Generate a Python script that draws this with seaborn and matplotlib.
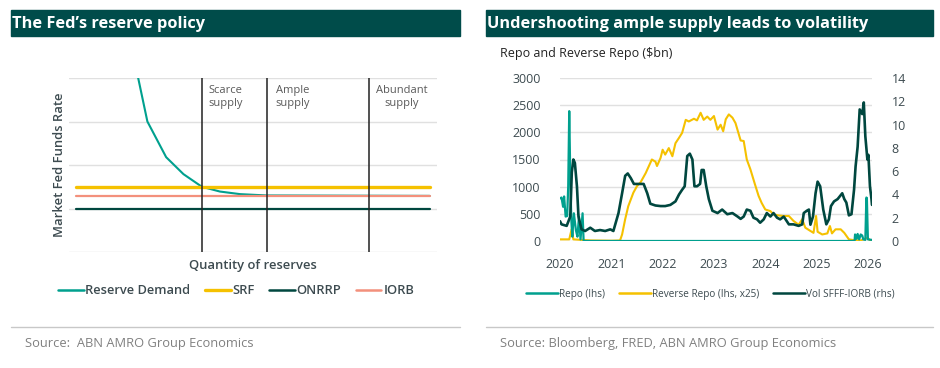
import numpy as np
import pandas as pd
import matplotlib
matplotlib.use("Agg")
import matplotlib.pyplot as plt
from matplotlib.lines import Line2D
import seaborn as sns

# ---------------- left panel: stylised reserve demand ----------------
demand_x = [17.5, 18.8, 21.3, 26.4, 31.1, 36.1, 41.0, 46.5, 53.7, 98.0]
demand_y = [4.6, 4.0, 3.0, 2.18, 1.79, 1.50, 1.39, 1.33, 1.30, 1.29]
policy_names = ["SRF", "ONRRP", "IORB"]
policy_levels = [1.49, 1.0, 1.29]
regime_bounds = [36.2, 53.8, 81.5]
regime_labels = ["Scarce\nsupply", "Ample\nsupply", "Abundant\nsupply"]
regime_label_x = [37.8, 56.0, 83.5]

# ---------------- right panel: repo, reverse repo, vol ----------------
repo_t = [2020.00, 2020.03, 2020.06, 2020.08, 2020.11, 2020.14, 2020.16, 2020.18, 2020.20,
          2020.22, 2020.24, 2020.27, 2020.31, 2020.34, 2020.37, 2020.40, 2020.44, 2020.46,
          2020.50, 2025.74, 2025.75, 2025.78, 2025.80, 2025.83, 2025.86, 2025.89, 2025.91,
          2025.95, 2025.97, 2025.98, 2026.00, 2026.08]
repo = [785, 800, 630, 820, 450, 460, 1000, 2390, 1200,
        400, 80, 510, 200, 80, 450, 30, 510, 0,
        0, 0, 120, 40, 130, 30, 120, 100, 30,
        20, 800, 790, 30, 20]

rrp_t = [2020.00, 2020.18, 2020.21, 2020.23, 2020.26, 2020.60, 2021.00, 2021.17, 2021.21, 2021.27,
         2021.33, 2021.43, 2021.50, 2021.57, 2021.67, 2021.79, 2021.86, 2021.89, 2021.96, 2022.00,
         2022.05, 2022.12, 2022.19, 2022.25, 2022.32, 2022.38, 2022.45, 2022.51, 2022.61, 2022.67,
         2022.74, 2022.80, 2022.87, 2022.93, 2023.00, 2023.07, 2023.13, 2023.18, 2023.23, 2023.29,
         2023.36, 2023.42, 2023.52, 2023.58, 2023.64, 2023.71, 2023.80, 2023.87, 2023.93, 2024.00,
         2024.10, 2024.16, 2024.26, 2024.36, 2024.46, 2024.55, 2024.65, 2024.72, 2024.78, 2024.88,
         2024.94, 2024.99, 2025.02, 2025.11, 2025.21, 2025.26, 2025.30, 2025.37, 2025.47, 2025.54,
         2025.63, 2025.73, 2025.86, 2025.99, 2026.04, 2026.08]
rrp = [30, 30, 150, 220, 30, 10, 5, 10, 120, 400,
       640, 890, 1010, 1080, 1250, 1500, 1460, 1380, 1530, 1680,
       1590, 1710, 1560, 1800, 1900, 1990, 2230, 2200, 2250, 2220,
       2360, 2230, 2290, 2230, 2300, 2050, 2140, 2020, 2240, 2330,
       2270, 2170, 1850, 1840, 1500, 1320, 1040, 830, 700, 580,
       550, 490, 470, 460, 460, 370, 300, 400, 245, 185,
       150, 460, 170, 120, 140, 275, 140, 215, 215, 150,
       30, 15, 10, 60, 15, 10]

vol_t = [2020.00, 2020.03, 2020.13, 2020.20, 2020.23, 2020.26, 2020.29, 2020.33, 2020.36, 2020.42,
         2020.49, 2020.59, 2020.68, 2020.78, 2020.88, 2020.98, 2021.04, 2021.14, 2021.21, 2021.27,
         2021.32, 2021.38, 2021.44, 2021.53, 2021.63, 2021.70, 2021.76, 2021.86, 2021.96, 2022.05,
         2022.15, 2022.25, 2022.32, 2022.38, 2022.43, 2022.48, 2022.53, 2022.58, 2022.62, 2022.67,
         2022.73, 2022.76, 2022.80, 2022.85, 2022.90, 2022.97, 2023.07, 2023.16, 2023.26, 2023.36,
         2023.46, 2023.52, 2023.58, 2023.64, 2023.71, 2023.77, 2023.84, 2023.90, 2023.97, 2024.03,
         2024.10, 2024.16, 2024.23, 2024.29, 2024.36, 2024.46, 2024.55, 2024.65, 2024.72, 2024.75,
         2024.81, 2024.85, 2024.88, 2024.93, 2024.98, 2025.02, 2025.07, 2025.13, 2025.19, 2025.24,
         2025.28, 2025.34, 2025.41, 2025.50, 2025.54, 2025.58, 2025.63, 2025.68, 2025.73, 2025.76,
         2025.80, 2025.84, 2025.89, 2025.92, 2025.95, 2025.99, 2026.01, 2026.04, 2026.07, 2026.08]
vol = [1.7, 1.43, 1.3, 2.1, 5.9, 7.0, 6.7, 4.7, 2.1, 1.0,
       0.86, 1.14, 0.86, 0.94, 0.86, 1.0, 0.86, 2.4, 4.1, 5.6,
       5.8, 5.4, 4.9, 4.9, 4.9, 4.1, 3.2, 3.05, 3.0, 3.0,
       3.1, 3.4, 4.0, 4.4, 4.7, 7.3, 7.5, 7.0, 4.7, 4.7,
       4.9, 6.1, 6.1, 4.7, 3.6, 2.6, 2.4, 2.7, 2.3, 2.4,
       2.1, 1.9, 2.1, 2.7, 2.6, 2.0, 1.86, 1.57, 1.86, 2.4,
       2.1, 2.4, 2.0, 1.86, 2.1, 1.43, 1.43, 1.3, 1.43, 2.4,
       2.6, 2.7, 1.4, 2.1, 4.1, 5.1, 4.7, 2.7, 1.43, 1.86,
       3.0, 3.4, 3.6, 4.1, 3.6, 3.3, 2.2, 2.3, 4.4, 6.4,
       8.1, 11.3, 10.9, 11.9, 9.0, 7.0, 7.4, 4.7, 3.6, 3.1]

years = [2020, 2021, 2022, 2023, 2024, 2025, 2026]

# colours
BAR = "#004c4a"
TEAL = "#00a08e"
YELLOW = "#f5c100"
DARK = "#00473f"
SALMON = "#f3907c"
TXT = "#3d4b50"
SRC = "#808080"
GRID = "#e0e0e0"

sns.set_style("white")
plt.rcParams["font.family"] = ["Open Sans", "DejaVu Sans"]

fig = plt.figure(figsize=(9.4, 3.68), dpi=100)

# title bars, separators and source lines
for x0, w, title, src in [(11, 449, "The Fed\u2019s reserve policy", "Source:  ABN AMRO Group Economics"),
                          (486, 447, "Undershooting ample supply leads to volatility",
                           "Source: Bloomberg, FRED, ABN AMRO Group Economics")]:
    fig.patches.append(plt.Rectangle((x0 / 940, 1 - 36 / 368), w / 940, 26 / 368,
                                     transform=fig.transFigure, color=BAR, zorder=0))
    fig.text((x0 + 1) / 940, 1 - 23.5 / 368, title, color="white", fontsize=11.8,
             fontweight="bold", va="center", ha="left")
    fig.add_artist(Line2D([x0 / 940, (x0 + w) / 940], [1 - 327 / 368] * 2,
                          transform=fig.transFigure, color="#c8c8c8", lw=1))
    fig.text((x0 + 14) / 940, 1 - 343 / 368, src, color=SRC, fontsize=9.3, va="center")

# ---------------- left chart ----------------
ax1 = fig.add_axes([69 / 940, 1 - 252 / 368, 368 / 940, 174 / 368])
sns.lineplot(x=demand_x, y=demand_y, ax=ax1, color=TEAL, lw=1.5, zorder=3)
pol_colors = {"SRF": YELLOW, "ONRRP": DARK, "IORB": SALMON}
pol_widths = {"SRF": 2.4, "ONRRP": 1.6, "IORB": 1.6}
for name, lev in zip(policy_names, policy_levels):
    df = pd.DataFrame({"x": [2, 98], "y": [lev, lev]})
    sns.lineplot(data=df, x="x", y="y", ax=ax1, color=pol_colors[name],
                 lw=pol_widths[name], zorder=4)
for b in regime_bounds:
    ax1.axvline(b, color="#222222", lw=1.1, zorder=5)
for lx, lab in zip(regime_label_x, regime_labels):
    ax1.text(lx, 3.84, lab, fontsize=8, color="#5a5a5a", va="top", ha="left",
             multialignment="center")

ax1.set_xlim(0, 100)
ax1.set_ylim(0, 4)
ax1.set_yticks([0, 1, 2, 3, 4])
ax1.set_xticks([])
ax1.tick_params(left=False, labelleft=False)
ax1.grid(axis="y", color=GRID, lw=1)
sns.despine(ax=ax1, left=True, bottom=True)
ax1.set_xlabel("Quantity of reserves", fontsize=9.4, color=TXT, labelpad=5,
               fontweight="semibold", visible=True)
ax1.set_ylabel("Market Fed Funds Rate", fontsize=9.4, color=TXT, labelpad=2,
               fontweight="semibold", visible=True)

h1 = [Line2D([], [], color=TEAL, lw=1.8), Line2D([], [], color=YELLOW, lw=2.4),
      Line2D([], [], color=DARK, lw=1.8), Line2D([], [], color=SALMON, lw=1.8)]
fig.legend(h1, ["Reserve Demand"] + policy_names, loc="center",
           bbox_to_anchor=(236 / 940, 1 - 291 / 368), ncol=4, frameon=False,
           prop={"size": 9.3, "weight": "semibold"}, handlelength=2.0,
           handletextpad=0.15, columnspacing=1.1, labelcolor=TXT)

# ---------------- right chart ----------------
fig.text(500 / 940, 1 - 53 / 368, "Repo and Reverse Repo ($bn)", fontsize=9,
         color="#222222", va="center")
ax2 = fig.add_axes([560 / 940, 1 - 241 / 368, 312 / 940, 163 / 368])
ax3 = ax2.twinx()
repo_df = pd.DataFrame({"t": repo_t, "v": repo})
rrp_df = pd.DataFrame({"t": rrp_t, "v": rrp})
vol_df = pd.DataFrame({"t": vol_t, "v": vol})
sns.lineplot(data=rrp_df, x="t", y="v", ax=ax2, color=YELLOW, lw=1.5, zorder=3)
sns.lineplot(data=repo_df, x="t", y="v", ax=ax2, color=TEAL, lw=1.6, zorder=4)
sns.lineplot(data=vol_df, x="t", y="v", ax=ax3, color=DARK, lw=1.9, zorder=3)

ax2.set_xlim(2020, 2026.08)
ax2.set_ylim(0, 3000)
ax3.set_ylim(0, 14)
ax2.set_yticks(range(0, 3001, 500))
ax3.set_yticks(range(0, 15, 2))
ax2.set_xticks(years)
ax2.set_xticklabels([str(y) for y in years])
ax2.grid(axis="y", color=GRID, lw=1)
ax2.grid(axis="x", visible=False)
for a in (ax2, ax3):
    for s in a.spines.values():
        s.set_visible(False)
    a.set_xlabel("")
    a.set_ylabel("")
ax2.tick_params(axis="y", length=0, pad=14, labelsize=9, labelcolor=TXT)
ax3.tick_params(axis="y", length=0, pad=14, labelsize=9, labelcolor=TXT)
ax2.tick_params(axis="x", length=4, width=1.2, color="#555555", pad=8, labelsize=9,
                labelcolor=TXT)

h2 = [Line2D([], [], color=TEAL, lw=1.8), Line2D([], [], color=YELLOW, lw=1.8),
      Line2D([], [], color=DARK, lw=1.8)]
fig.legend(h2, ["Repo (lhs)", "Reverse Repo (lhs, x25)", "Vol SFFF-IORB (rhs)"],
           loc="center", bbox_to_anchor=(710 / 940, 1 - 294 / 368), ncol=3,
           frameon=False, fontsize=7.2, handlelength=3.2, handletextpad=0.1,
           columnspacing=1.4, labelcolor=TXT)

fig.savefig("out.png", dpi=100)
